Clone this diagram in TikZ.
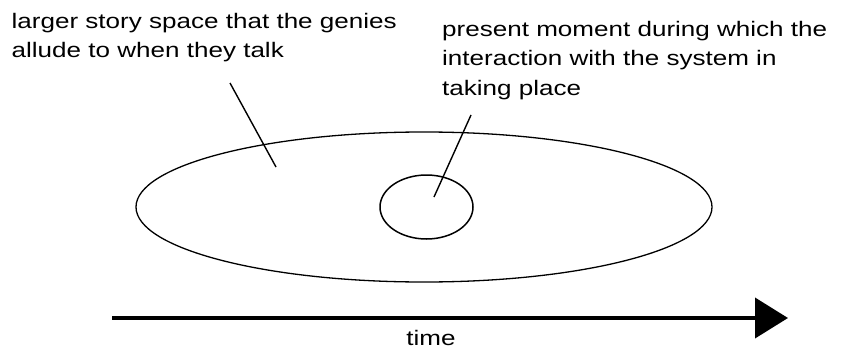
\documentclass[tikz,border=0pt]{standalone}
\usepackage{fontspec}
\setmainfont[FakeStretch = 1.24]{Liberation Sans}
\usetikzlibrary{shapes.geometric,arrows.meta}
\tikzset{
	label text/.style = {anchor = base west, align = left, inner sep = 0pt, font = \fontsize{21}{29.3}\selectfont},
	leader/.style = {line width = 1.4pt}
}
\begin{document}
\begin{tikzpicture}[x = 1pt, y = -1pt]
\useasboundingbox (0,0) rectangle (841,348);
% story space and present moment
\node[draw, ellipse, line width = 1.3pt, minimum width = 576pt, minimum height = 150pt, inner sep = 0pt] (story) at (424, 207) {};
\node[draw, ellipse, line width = 1.5pt, minimum width = 93pt, minimum height = 64pt, inner sep = 0pt] (moment) at (426.5, 207) {};
% labels, anchored at the baseline of their last line
\node[label text] (storytext) at (11.5, 57.3) {larger story space that the genies\\allude to when they talk};
\node[label text] (momenttext) at (442, 95) {present moment during which the\\interaction with the system in\\taking place};
\coordinate (storytail) at (230, 83);
\coordinate (storytip) at (276, 167);
\coordinate (momenttail) at (471, 115);
\coordinate (momenttip) at (434, 197);
\draw[leader] (storytail) -- (storytip);
\draw[leader] (momenttail) -- (momenttip);
% time axis
\coordinate (start) at (112, 318);
\coordinate (end) at (788, 318);
\draw[line width = 4pt, -{Triangle[length = 33pt, width = 40pt]}] (start) -- (end);
\node[font = \fontsize{21}{25}\selectfont, anchor = base, inner sep = 0pt] (time) at (431, 345) {time};
\end{tikzpicture}
\end{document}
